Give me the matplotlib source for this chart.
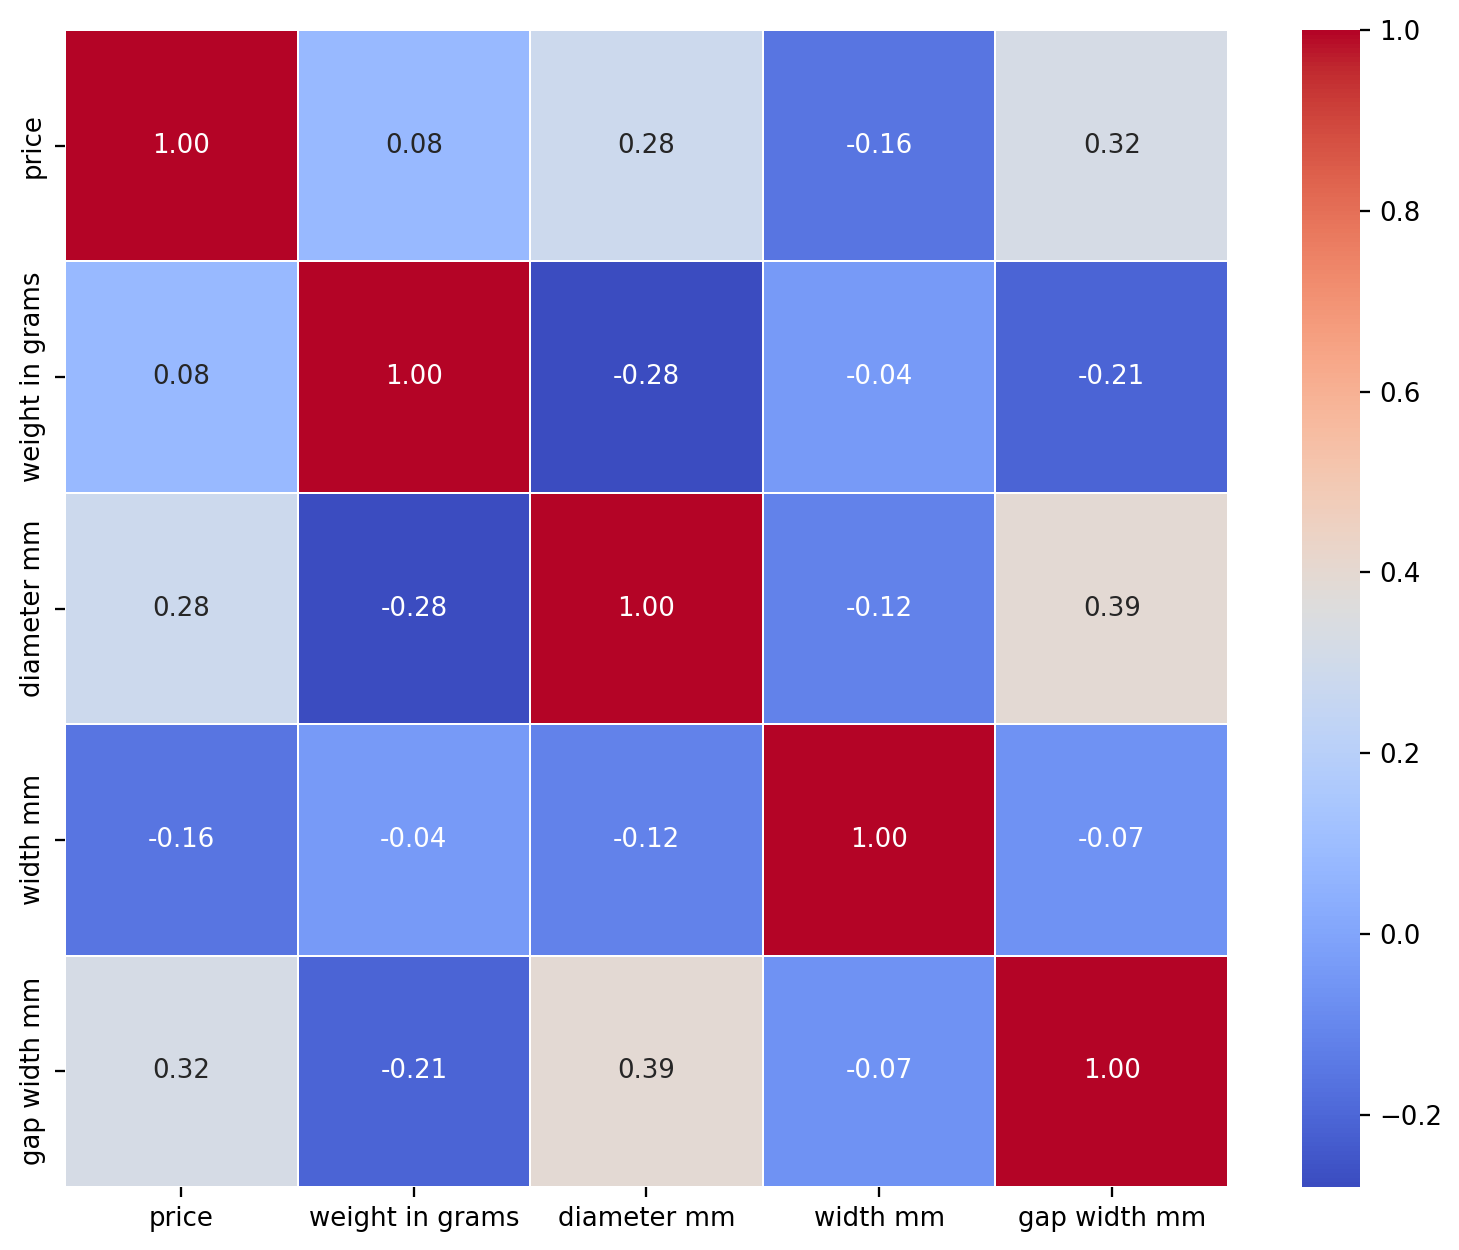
import numpy as np
import pandas as pd
import matplotlib
matplotlib.use("Agg")
import matplotlib.pyplot as plt
import seaborn as sns

labels = ["price", "weight in grams", "diameter mm", "width mm", "gap width mm"]
row_price = [1.00, 0.08, 0.28, -0.16, 0.32]
row_weight = [0.08, 1.00, -0.28, -0.04, -0.21]
row_diameter = [0.28, -0.28, 1.00, -0.12, 0.39]
row_width = [-0.16, -0.04, -0.12, 1.00, -0.07]
row_gap = [0.32, -0.21, 0.39, -0.07, 1.00]

corr = pd.DataFrame([row_price, row_weight, row_diameter, row_width, row_gap],
                    index=labels, columns=labels)

W, H = 1460, 1250
dpi = 150
fig = plt.figure(figsize=(W / dpi, H / dpi), dpi=dpi)
ax = fig.add_axes([65 / W, 1 - 1187 / H, (1228 - 65) / W, (1187 - 30) / H])
cax = fig.add_axes([1302 / W, 1 - 1187 / H, (1360 - 1302) / W, (1187 - 30) / H])

sns.heatmap(corr, annot=True, fmt=".2f", cmap="coolwarm", linewidths=0.9,
            linecolor="white", ax=ax, cbar_ax=cax, annot_kws={"fontsize": 12.5})
ax.tick_params(labelsize=12.5, length=4.7, width=1.1, pad=4.5)
cax.tick_params(labelsize=12.5, length=4.7, width=1.1, pad=4.5)
fig.savefig("out.png", dpi=dpi)
